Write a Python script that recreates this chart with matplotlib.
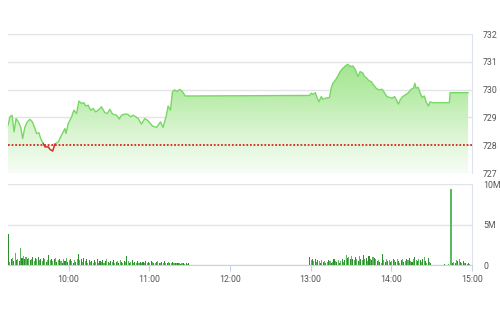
import matplotlib.pyplot as plt
import numpy as np
from matplotlib.colors import LinearSegmentedColormap

# price line: minutes after 9:15 and index value
price_min = [0, 1.5, 3, 4.5, 6, 7.7, 9.4, 10.9, 12.6, 14.4, 16.3, 18.1, 19.6, 21.3, 23.0,
             24.3, 26.2, 27.5, 30.0, 31.2, 33.2, 34.9, 37.4, 39.8, 42.3, 43.1, 44.8, 47.3,
             49.0, 51.0, 52.7, 54.7, 56.4, 57.9, 59.6, 61.4, 63.4, 65.1, 67.1, 69.5, 72.0,
             73.8, 75.7, 77.7, 80.7, 82.7, 84.4, 86.9, 89.3, 91.1, 93.1, 95.0, 96.8, 99.2,
             101.7, 104.2, 107.4, 110.4, 113.4, 115.3, 117.8, 119.0, 120.8, 122.3, 124.0,
             125.7, 127.7, 129.7, 131.7,
             224.3, 225.5, 226.7, 228.5, 229.7, 231.2, 232.9, 234.2, 236.1, 239.1, 240.3,
             241.6, 243.6, 245.3, 247.0, 249.0, 251.0, 252.7, 254.4, 256.4, 258.4, 260.1,
             261.9, 263.9, 265.1, 266.8, 268.3, 270.0, 271.8, 273.7, 275.7, 278.2, 279.9,
             281.7, 283.6, 285.6, 287.4, 288.6, 290.3, 291.6, 293.5, 295.5, 297.3, 299.7,
             301.5, 302.5, 303.5, 305.0, 306.4, 307.9, 309.6, 310.9, 312.6, 313.8, 315.3,
             328.2, 328.7, 342.1]
price_val = [728.72, 729.02, 729.08, 728.48, 728.96, 728.84, 728.66, 728.24, 728.66, 728.84,
             728.93, 728.84, 728.66, 728.42, 728.45, 728.24, 728.06, 727.94, 727.94, 727.85,
             727.79, 728.04, 728.12, 728.36, 728.60, 728.42, 728.78, 729.02, 729.26, 729.14,
             729.59, 729.50, 729.53, 729.41, 729.44, 729.26, 729.32, 729.20, 729.26, 729.38,
             729.17, 729.14, 729.29, 729.12, 729.08, 728.94, 729.08, 729.12, 729.11, 729.02,
             729.08, 729.02, 728.96, 728.76, 728.96, 728.88, 728.69, 728.64, 728.84, 728.64,
             729.08, 729.41, 729.26, 729.93, 729.99, 729.93, 730.01, 729.93, 729.77,
             729.79, 729.87, 729.83, 729.89, 729.72, 729.56, 729.75, 729.66, 729.69, 729.72,
             730.05, 730.23, 730.35, 730.49, 730.65, 730.77, 730.86, 730.91, 730.83, 730.85,
             730.71, 730.47, 730.65, 730.59, 730.47, 730.41, 730.32, 730.29, 730.17, 730.05,
             729.99, 730.01, 729.89, 729.75, 729.72, 729.69, 729.75, 729.65, 729.48, 729.63,
             729.75, 729.81, 729.87, 730.01, 730.05, 730.23, 730.05, 730.08, 729.89, 729.72,
             729.77, 729.56, 729.41, 729.56, 729.53, 729.53, 729.89, 729.89]
ref_price = 728.0

# volume (millions of shares), one bar per minute
vol_am_start = 0
vol_am = [3.8, 0.4, 0.7, 0.9, 0.5, 1.5, 0.6, 0.8, 0.5, 2.1,
          0.9, 1.1, 0.8, 1.0, 0.7, 0.9, 0.6, 0.8, 1.0, 0.5,
          0.9, 0.7, 1.0, 0.6, 0.8, 0.5, 0.9, 0.7, 0.4, 0.6,
          1.2, 0.6, 0.8, 0.5, 0.7, 0.9, 0.4, 0.6, 0.8, 0.5,
          0.3, 0.7, 0.5, 0.9, 0.4, 0.6, 0.8, 0.5, 0.3, 0.6,
          0.4, 0.7, 1.4, 0.6, 0.8, 0.4, 0.9, 0.5, 0.7, 0.3,
          0.6, 0.4, 0.5, 0.3, 0.6, 0.4, 0.7, 0.3, 0.5, 0.4,
          0.6, 0.3, 0.5, 0.7, 0.4, 0.3, 0.5, 0.4, 0.6, 0.3,
          0.4, 0.5, 0.3, 0.6, 0.4, 0.3, 0.5, 0.4, 1.1, 0.5,
          0.3, 0.4, 0.6, 0.3, 0.4, 0.2, 0.5, 0.3, 0.4, 0.3,
          0.4, 0.3, 0.5, 0.2, 0.4, 0.3, 0.5, 0.4, 0.2, 0.3,
          0.4, 0.5, 0.3, 0.2, 0.4, 0.3, 0.5, 0.3, 0.2, 0.4,
          0.3, 0.2, 0.4, 0.3, 0.2, 0.3, 0.2, 0.3, 0.1, 0.2,
          0.3, 0.1, 0.2, 0.1, 0.2]
vol_pm_start = 224
vol_pm = [1.0, 0.6, 0.8, 0.5, 0.7, 0.4, 0.6, 0.5, 0.3, 0.6,
          0.4, 0.5, 0.3, 0.4, 0.6, 0.5, 0.3, 0.4, 0.7, 0.5,
          0.4, 0.6, 0.3, 0.5, 0.8, 0.4, 0.6, 1.2, 0.9, 1.0,
          0.7, 1.1, 0.8, 0.6, 1.0, 0.7, 0.5, 1.1, 0.8, 0.6,
          1.2, 0.7, 0.9, 0.5, 1.1, 0.8, 0.6, 1.0, 0.9, 0.7,
          0.5, 0.6, 0.4, 0.3, 1.4, 0.6, 0.4, 0.7, 0.5, 0.6,
          0.4, 0.5, 0.8, 0.6, 0.4, 0.7, 0.5, 0.3, 0.6, 0.8,
          0.4, 0.5, 0.7, 0.6, 0.9, 0.5, 0.4, 0.7, 1.0, 0.6,
          0.5, 0.8, 0.6, 0.4, 0.7, 1.0, 0.5, 0.3, 0.9, 0.4,
          0.2]
vol_close_start = 322
vol_close = [0.05, 0.0, 0.08, 0.0, 0.06, 0.1, 0.05, 9.4,
             0.2, 0.4, 0.3, 0.6, 0.5, 0.8, 0.4, 0.3, 0.5, 0.2, 0.3, 0.1, 0.2, 0.1]

hour_ticks = [10, 11, 12, 13, 14, 15]
hour_labels = ['10:00', '11:00', '12:00', '13:00', '14:00', '15:00']
price_ticks = [727, 728, 729, 730, 731, 732]
vol_ticks = [0, 5, 10]
vol_labels = ['0', '5M', '10M']


def to_hours(minutes):
    return 9.25 + np.asarray(minutes, dtype=float) / 60.0


def main():
    plt.rcParams['font.family'] = ['Roboto', 'DejaVu Sans']
    fig = plt.figure(figsize=(5, 3.12), dpi=100)
    x0, x1 = 9.25, 15.0
    grid_c = '#e2e4e8'
    text_c = '#555555'

    # ---- price panel
    ax = fig.add_axes([0.016, 0.4455, 0.928, 0.4455])
    t = to_hours(price_min)
    p = np.array(price_val)

    cmap = LinearSegmentedColormap.from_list('g', ['#f7fdf5', '#dcf5d4', '#b8eca9', '#9fe38d'])
    grad = np.linspace(0, 1, 256).reshape(-1, 1)
    img = ax.imshow(grad, extent=[x0, x1, 727, 731.2], origin='lower', aspect='auto',
                    cmap=cmap, zorder=1)
    poly = ax.fill_between(t, p, 727, color='none', lw=0)
    img.set_clip_path(poly.get_paths()[0], transform=ax.transData)

    ax.plot(t, p, color='#78d866', lw=1.0, zorder=3)
    red = np.ma.masked_where(p > ref_price + 0.07, p)
    ax.plot(t, red, color='#e8262a', lw=1.0, zorder=4)
    ax.axhline(ref_price, color='#d42a20', lw=1.3, ls=(0, (1, 1)), zorder=5)

    ax.set_xlim(x0, x1)
    ax.set_ylim(727, 732)
    ax.set_yticks(price_ticks)
    ax.yaxis.tick_right()
    ax.tick_params(axis='y', length=0, pad=8, labelsize=6.3, labelcolor=text_c)
    ax.set_xticks([])
    ax.grid(axis='y', color=grid_c, lw=1)
    for s in ['left', 'top', 'bottom']:
        ax.spines[s].set_visible(False)
    ax.spines['right'].set_color('#dde3ea')
    ax.set_axisbelow(True)

    # ---- volume panel
    av = fig.add_axes([0.016, 0.1506, 0.928, 0.2596])
    for start, vals in [(vol_am_start, vol_am), (vol_pm_start, vol_pm),
                        (vol_close_start, vol_close)]:
        tm = to_hours(np.arange(start, start + len(vals)))
        cols = ['#2f8f2f' if i % 2 == 0 else '#5cb85c' for i in range(len(vals))]
        av.bar(tm, vals, width=0.8 / 60, color=cols, align='edge', zorder=3)
    av.set_xlim(x0, x1)
    av.set_ylim(0, 10)
    av.set_yticks(vol_ticks)
    av.set_yticklabels(vol_labels)
    av.yaxis.tick_right()
    av.tick_params(axis='y', length=0, pad=8, labelsize=6.3, labelcolor=text_c)
    av.set_xticks(hour_ticks)
    av.set_xticklabels(hour_labels)
    av.tick_params(axis='x', length=4, width=0.8, color='#c5d3e6', pad=3,
                   labelsize=6.3, labelcolor=text_c)
    av.grid(axis='y', color=grid_c, lw=1)
    av.spines['left'].set_visible(False)
    av.spines['top'].set_visible(False)
    av.spines['bottom'].set_color('#c5d3e6')
    av.spines['right'].set_color('#dde3ea')
    av.set_axisbelow(True)

    fig.savefig('out.png', dpi=100)


if __name__ == '__main__':
    main()
